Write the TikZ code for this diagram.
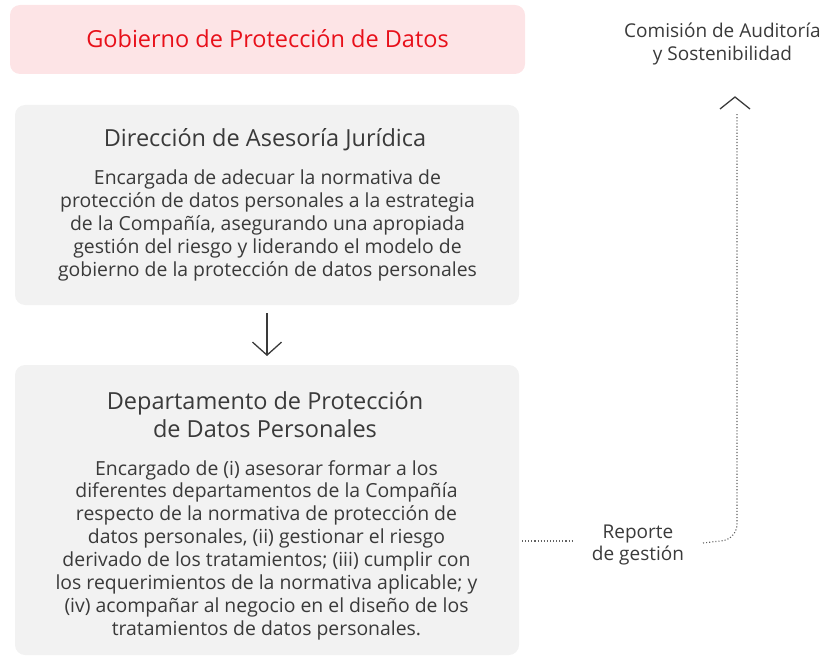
\documentclass[tikz,border=0pt]{standalone}
\usepackage{fontspec}
\setmainfont{Open Sans}
\usetikzlibrary{arrows.meta}
\definecolor{pinkfill}{HTML}{FDE4E6}
\definecolor{greyfill}{HTML}{F2F2F2}
\definecolor{txt}{HTML}{3A3A3A}
\definecolor{redtxt}{HTML}{E8101A}
\begin{document}
\begin{tikzpicture}[x=1pt,y=-1pt,
  box/.style={rounded corners=10pt, inner sep=0pt},
  dotline/.style={draw=txt!80, line width=1.1pt, dash pattern=on 1.1pt off 2pt},
  arr/.style={draw=txt, line width=1.3pt},
  txtnode/.style={text=txt, align=center, inner sep=0pt},
  titlefont/.style={font=\fontsize{23.5}{28}\selectfont},
  bodyfont/.style={font=\fontsize{19.4}{22.9}\selectfont},
  sidefont/.style={font=\fontsize{19}{22.5}\selectfont}]
\useasboundingbox (0,0) rectangle (826,660);
% boxes
\fill[pinkfill, box] (10,5) rectangle (525,74);
\fill[greyfill, box] (15,105) rectangle (519,305);
\fill[greyfill, box] (15,365) rectangle (519,655);
% texts
\node[titlefont, text=redtxt, inner sep=0pt, anchor=base] (gob) at (267.5,48) {Gobierno de Protección de Datos};
\node[txtnode, titlefont, anchor=base] (dirtitle) at (265,146.5) {Dirección de Asesoría Jurídica};
\node[txtnode, bodyfont, anchor=north] (dirbody) at (267.5,169.5)
 {Encargada de adecuar la normativa de\\
  protección de datos personales a la estrategia\\
  de la Compañía, asegurando una apropiada\\
  gestión del riesgo y liderando el modelo de\\
  gobierno de la protección de datos personales};
\node[txtnode, titlefont, anchor=north] (deptitle) at (265,391)
 {Departamento de Protección\\de Datos Personales};
\node[txtnode, bodyfont, anchor=north] (depbody) at (266.5,460)
 {Encargado de (i) asesorar formar a los\\
  diferentes departamentos de la Compañía\\
  respecto de la normativa de protección de\\
  datos personales, (ii) gestionar el riesgo\\
  derivado de los tratamientos; (iii) cumplir con\\
  los requerimientos de la normativa aplicable; y\\
  (iv) acompañar al negocio en el diseño de los\\
  tratamientos de datos personales.};
% down arrow
\coordinate (a1) at (267,313);
\coordinate (a2) at (267,356);
\draw[arr, -{Straight Barb[length=13pt,width=29pt]}] (a1) -- (a2);
% right side
\node[txtnode, sidefont, anchor=north] (com) at (722.5,23)
 {Comisión de Auditoría\\y Sostenibilidad};
\node[txtnode, sidefont, anchor=north] (rep) at (638,524.5)
 {Reporte\\de gestión};
\coordinate (depright) at (522,541);
\coordinate (l1) at (573,541);
\coordinate (r1) at (703,543);
\coordinate (top) at (735,97);
\draw[dotline] (depright) -- (l1);
\draw[dotline] (r1) -- (720,541) to[out=0,in=-90] (737,524) -- (737,113);
\draw[arr] (720,109) -- (top) -- (750,109);
\end{tikzpicture}
\end{document}
